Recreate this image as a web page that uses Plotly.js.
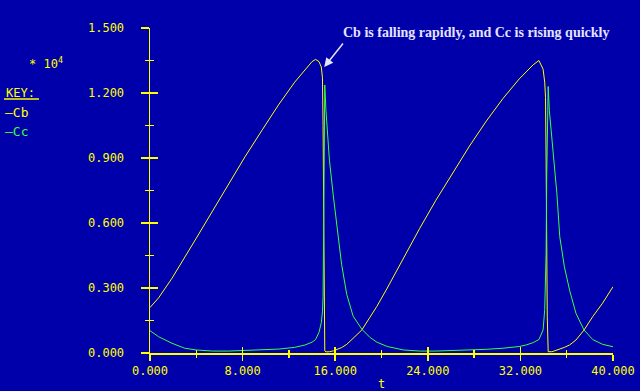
<!DOCTYPE html>
<html>
<head>
<meta charset="utf-8">
<script src="https://cdn.plot.ly/plotly-3.0.1.min.js"></script>
<style>html,body{margin:0;padding:0;background:#0000AA;}#chart{width:640px;height:391px;}</style>
</head>
<body>
<div id="chart"></div>
<script>
// time values (t)
var t = [0, 0.75, 1.9, 3.0, 4.0, 5.4, 6.8, 8.2, 9.7, 11.1, 12.5, 13.4, 14.0, 14.3, 14.6, 14.8, 14.9, 14.95, 15.0, 15.05, 15.1, 15.2, 15.3, 15.5, 15.85, 16.15, 16.55, 17.0, 17.55, 18.3, 19.0, 19.6, 20.5, 21.9, 23.3, 24.7, 26.2, 27.6, 29.05, 30.5, 31.9, 32.5, 33.1, 33.6, 33.96, 34.1, 34.17, 34.22, 34.27, 34.32, 34.4, 34.5, 34.7, 34.85, 35.15, 35.4, 35.8, 36.25, 36.8, 37.5, 38.25, 39.1, 40];
// Cb (units of 10^4)
var cb = [0.21, 0.255, 0.345, 0.44, 0.53, 0.655, 0.78, 0.905, 1.03, 1.145, 1.25, 1.31, 1.345, 1.355, 1.345, 1.32, 1.27, 1.05, 0.65, 0.25, 0.01, 0.005, 0.005, 0.006, 0.01, 0.015, 0.025, 0.04, 0.068, 0.106, 0.165, 0.215, 0.30, 0.44, 0.575, 0.705, 0.835, 0.955, 1.07, 1.175, 1.265, 1.30, 1.33, 1.35, 1.31, 1.25, 1.18, 0.89, 0.45, 0.17, 0.006, 0.005, 0.006, 0.008, 0.013, 0.017, 0.026, 0.037, 0.06, 0.106, 0.168, 0.23, 0.306];
// Cc (units of 10^4)
var cc = [0.103, 0.075, 0.045, 0.022, 0.014, 0.009, 0.009, 0.011, 0.014, 0.018, 0.026, 0.037, 0.05, 0.062, 0.095, 0.14, 0.19, 0.26, 0.55, 1.0, 1.237, 1.12, 1.03, 0.89, 0.72, 0.58, 0.41, 0.27, 0.17, 0.11, 0.072, 0.05, 0.03, 0.014, 0.009, 0.009, 0.011, 0.014, 0.017, 0.022, 0.03, 0.037, 0.048, 0.062, 0.106, 0.2, 0.3, 0.46, 0.8, 1.1, 1.23, 1.12, 1.0, 0.937, 0.737, 0.537, 0.398, 0.29, 0.183, 0.106, 0.062, 0.04, 0.029];
var seriesNames = ['Cb', 'Cc'];
var annotationText = 'Cb is falling rapidly, and Cc is rising quickly';
var arrowTarget = {t: 15.05, v: 1.32};

var BG = '#0000AA', YEL = '#FFFF00', GRN = '#3CFF3C', WHITE = '#E4E4FF';
var mono = 'DejaVu Sans Mono';

var traces = [
  {x: t, y: cb, type: 'scatter', mode: 'lines', name: seriesNames[0], line: {color: YEL, width: 1}, hoverinfo: 'skip'},
  {x: t, y: cc, type: 'scatter', mode: 'lines', name: seriesNames[1], line: {color: GRN, width: 1}, hoverinfo: 'skip'},
  {x: [], y: [], type: 'scatter', mode: 'lines', xaxis: 'x2', yaxis: 'y2', showlegend: false, hoverinfo: 'skip'}
];

var tickFont = {family: mono, size: 12, color: YEL};
var xBase = {range: [0, 40], dtick: 8, tick0: 0, showgrid: false, zeroline: false, linecolor: YEL, linewidth: 1.5, tickcolor: YEL, tickwidth: 1.5, fixedrange: true};
var yBase = {range: [0, 1.5], dtick: 0.3, tick0: 0, showgrid: false, zeroline: false, linecolor: YEL, linewidth: 1.5, tickcolor: YEL, tickwidth: 1.5, fixedrange: true};

var layout = {
  width: 640, height: 391,
  paper_bgcolor: BG, plot_bgcolor: BG,
  margin: {l: 150, r: 27, t: 28, b: 38, pad: 0},
  showlegend: false,
  xaxis: Object.assign({}, xBase, {
    showline: true, ticks: 'outside', ticklen: 6, tickformat: '.3f', tickfont: tickFont,
    minor: {dtick: 4, ticks: 'outside', ticklen: 3, tickcolor: YEL, tickwidth: 1.5, showgrid: false},
    title: {text: 't', font: {family: mono, size: 12, color: YEL}, standoff: 6}
  }),
  yaxis: Object.assign({}, yBase, {
    showline: true, ticks: 'outside', ticklen: 8, tickformat: '.3f', tickfont: tickFont, ticklabelstandoff: 14,
    minor: {dtick: 0.15, ticks: 'outside', ticklen: 4, tickcolor: YEL, tickwidth: 1.5, showgrid: false}
  }),
  xaxis2: Object.assign({}, xBase, {
    overlaying: 'x', anchor: 'y2', side: 'bottom', showline: false, showticklabels: false, ticks: 'inside', ticklen: 6,
    minor: {dtick: 4, ticks: 'inside', ticklen: 3, tickcolor: YEL, tickwidth: 1.5, showgrid: false}
  }),
  yaxis2: Object.assign({}, yBase, {
    overlaying: 'y', anchor: 'x2', side: 'left', showline: false, showticklabels: false, ticks: 'inside', ticklen: 8,
    minor: {dtick: 0.15, ticks: 'inside', ticklen: 4, tickcolor: YEL, tickwidth: 1.5, showgrid: false}
  }),
  annotations: [
    {xref: 'paper', yref: 'paper', x: 0.705, y: 0.985, xanchor: 'center', yanchor: 'middle', showarrow: false,
     text: '<b>' + annotationText + '</b>', font: {family: 'Liberation Serif', size: 14, color: WHITE}},
    {xref: 'x', yref: 'y', x: arrowTarget.t, y: arrowTarget.v, ax: 20, ay: -25, text: '', showarrow: true,
     arrowhead: 2, arrowsize: 1.2, arrowwidth: 1.5, arrowcolor: WHITE, standoff: 0},
    {xref: 'paper', yref: 'paper', x: -0.2657, y: 0.893, xanchor: 'left', yanchor: 'middle', showarrow: false,
     text: '* 10<sup>4</sup>', font: {family: mono, size: 12, color: YEL}},
    {xref: 'paper', yref: 'paper', x: -0.3153, y: 0.801, xanchor: 'left', yanchor: 'middle', showarrow: false,
     text: 'KEY:', font: {family: mono, size: 12, color: YEL}},
    {xref: 'paper', yref: 'paper', x: -0.3175, y: 0.7415, xanchor: 'left', yanchor: 'middle', showarrow: false,
     text: '—' + seriesNames[0], font: {family: mono, size: 13, color: YEL}},
    {xref: 'paper', yref: 'paper', x: -0.3175, y: 0.683, xanchor: 'left', yanchor: 'middle', showarrow: false,
     text: '—' + seriesNames[1], font: {family: mono, size: 13, color: GRN}}
  ],
  shapes: [
    {type: 'line', xref: 'paper', yref: 'paper', x0: -0.3153, x1: -0.2397, y0: 0.7815, y1: 0.7815, line: {color: YEL, width: 1.5}}
  ]
};

Plotly.newPlot('chart', traces, layout, {staticPlot: true, displayModeBar: false});
</script>
</body>
</html>
